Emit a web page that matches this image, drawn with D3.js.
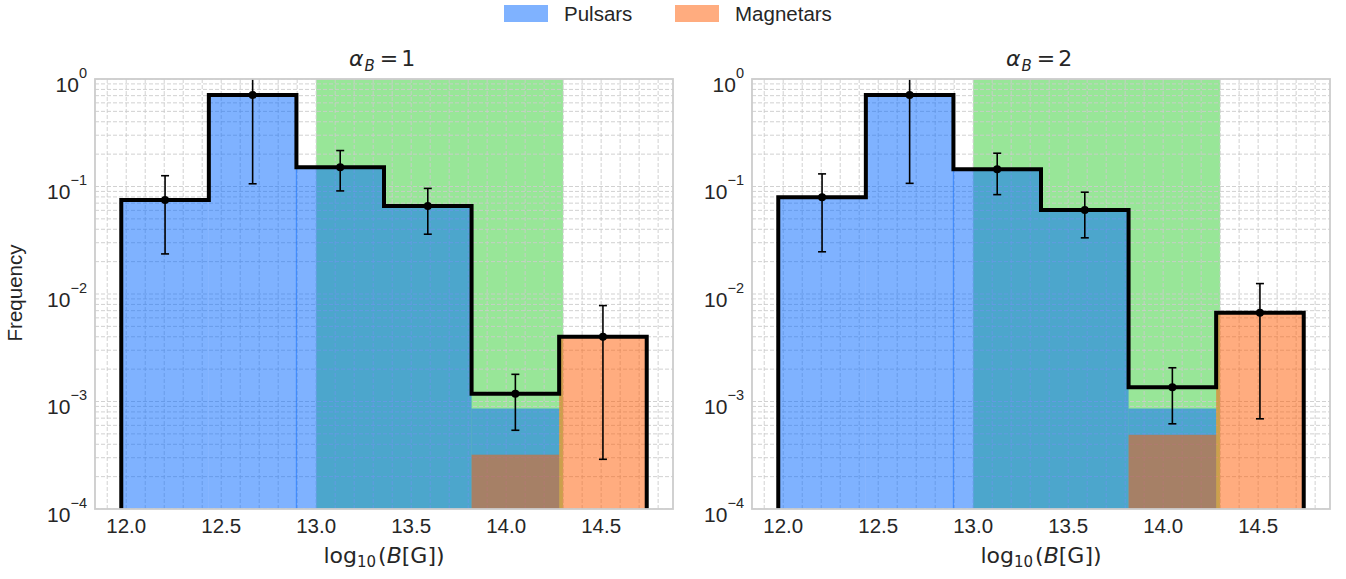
<!DOCTYPE html>
<html>
<head>
<meta charset="utf-8">
<script src="https://cdn.jsdelivr.net/npm/d3@7"></script>
<style>
  html, body { margin: 0; padding: 0; background: #ffffff; }
  svg { display: block; }
</style>
</head>
<body>
<svg id="chart" width="1346" height="579"></svg>
<script>
// ---- data ----------------------------------------------------------------
// histogram bin edges in log10(B [G])
const binEdges = [11.974, 12.435, 12.896, 13.357, 13.818, 14.279, 14.74];
// shaded field range
const shadeRange = [13.0, 14.3];
const xTicks = [12.0, 12.5, 13.0, 13.5, 14.0, 14.5];
const yTickExponents = [0, -1, -2, -3, -4];
const panelAlphas = ["1", "2"];
const legendLabels = ["Pulsars", "Magnetars"];

// alpha_B = 1
const pulsarsA1   = [0.075, 0.71, 0.151, 0.066, 8.6e-4, 0];
const magnetarsA1 = [0, 0, 0, 0, 3.2e-4, 4.0e-3];
const combinedA1  = [0.075, 0.71, 0.151, 0.066, 1.18e-3, 4.0e-3];
const errLowA1    = [0.0236, 0.106, 0.091, 0.036, 5.4e-4, 2.9e-4];
const errHighA1   = [0.126, 1.3, 0.216, 0.096, 1.79e-3, 7.8e-3];

// alpha_B = 2
const pulsarsA2   = [0.0796, 0.71, 0.145, 0.0606, 8.6e-4, 0];
const magnetarsA2 = [0, 0, 0, 0, 4.9e-4, 6.7e-3];
const combinedA2  = [0.0796, 0.71, 0.145, 0.0606, 1.36e-3, 6.7e-3];
const errLowA2    = [0.0247, 0.107, 0.084, 0.0333, 6.2e-4, 6.9e-4];
const errHighA2   = [0.131, 1.3, 0.204, 0.0885, 2.06e-3, 0.0125];

// ---- styling -------------------------------------------------------------
const BLUE = "#0066ff", ORANGE = "#ff5a00", GREEN = "#32cd32";
const FILL_ALPHA = 0.5;
const TEXT = "#262626";
const GRID = "#cccccc";
const SANS = "'Liberation Sans', Arial, sans-serif";
const MATH = "'DejaVu Sans', sans-serif";

const panels = [
  { alpha: panelAlphas[0], pulsars: pulsarsA1, magnetars: magnetarsA1, combined: combinedA1, lo: errLowA1, hi: errHighA1, left: 95,  right: 673, ylabel: true },
  { alpha: panelAlphas[1], pulsars: pulsarsA2, magnetars: magnetarsA2, combined: combinedA2, lo: errLowA2, hi: errHighA2, left: 752, right: 1330, ylabel: false }
];
const TOP = 79, BOTTOM = 509;

const svg = d3.select("#chart");

// x limits with 5% padding around the bin range
const span = binEdges[binEdges.length - 1] - binEdges[0];
const xDomain = [binEdges[0] - 0.05 * span, binEdges[binEdges.length - 1] + 0.05 * span];

const bins = d3.range(binEdges.length - 1).map(i => ({
  x0: binEdges[i], x1: binEdges[i + 1], xc: (binEdges[i] + binEdges[i + 1]) / 2
}));

panels.forEach((p, pi) => {
  const x = d3.scaleLinear().domain(xDomain).range([p.left, p.right]);
  const y = d3.scaleLog().domain([1e-4, 1]).range([BOTTOM, TOP]);

  const clipId = "clip" + pi;
  svg.append("clipPath").attr("id", clipId)
    .append("rect").attr("x", p.left).attr("y", TOP)
    .attr("width", p.right - p.left).attr("height", BOTTOM - TOP);

  const g = svg.append("g").attr("clip-path", `url(#${clipId})`);

  // shaded range
  g.append("rect")
    .attr("x", x(shadeRange[0])).attr("y", TOP)
    .attr("width", x(shadeRange[1]) - x(shadeRange[0]))
    .attr("height", BOTTOM - TOP)
    .attr("fill", GREEN).attr("fill-opacity", FILL_ALPHA);

  // grid: major + minor, dashed
  const xMinor = d3.range(119, 149).map(v => v / 10);
  const yMinor = [];
  for (let e = -4; e < 0; e++) for (let m = 1; m <= 9; m++) yMinor.push(m * Math.pow(10, e));
  yMinor.push(1);

  g.append("g").selectAll("line").data(xMinor).join("line")
    .attr("x1", d => x(d)).attr("x2", d => x(d))
    .attr("y1", TOP).attr("y2", BOTTOM)
    .attr("stroke", GRID).attr("stroke-width", 0.9).attr("stroke-dasharray", "4,2");
  g.append("g").selectAll("line").data(yMinor).join("line")
    .attr("x1", p.left).attr("x2", p.right)
    .attr("y1", d => y(d)).attr("y2", d => y(d))
    .attr("stroke", GRID).attr("stroke-width", 0.9).attr("stroke-dasharray", "4,2");

  // pulsar bars
  g.append("g").selectAll("rect").data(bins.filter((b, i) => p.pulsars[i] > 0).map(b => ({ ...b, v: p.pulsars[bins.indexOf(b)] })))
    .join("rect")
    .attr("x", d => x(d.x0)).attr("width", d => x(d.x1) - x(d.x0))
    .attr("y", d => y(d.v)).attr("height", d => BOTTOM - y(d.v))
    .attr("fill", BLUE).attr("fill-opacity", FILL_ALPHA);

  // seam where the two pulsar bar groups meet
  const seam = 2;
  g.append("line")
    .attr("x1", x(binEdges[seam])).attr("x2", x(binEdges[seam]))
    .attr("y1", y(Math.min(p.pulsars[seam - 1], p.pulsars[seam]))).attr("y2", BOTTOM)
    .attr("stroke", BLUE).attr("stroke-opacity", FILL_ALPHA).attr("stroke-width", 1.2);

  // magnetar bars
  g.append("g").selectAll("rect").data(bins.map((b, i) => ({ ...b, v: p.magnetars[i] })).filter(d => d.v > 0))
    .join("rect")
    .attr("x", d => x(d.x0)).attr("width", d => x(d.x1) - x(d.x0))
    .attr("y", d => y(d.v)).attr("height", d => BOTTOM - y(d.v))
    .attr("fill", ORANGE).attr("fill-opacity", FILL_ALPHA);

  // combined step outline
  const stepPts = [[x(binEdges[0]), BOTTOM + 20]];
  bins.forEach((b, i) => {
    stepPts.push([x(b.x0), y(p.combined[i])]);
    stepPts.push([x(b.x1), y(p.combined[i])]);
  });
  stepPts.push([x(binEdges[binEdges.length - 1]), BOTTOM + 20]);
  g.append("path")
    .attr("d", d3.line()(stepPts))
    .attr("fill", "none").attr("stroke", "#000").attr("stroke-width", 4)
    .attr("stroke-linejoin", "miter");

  // error bars
  const eb = g.append("g");
  bins.forEach((b, i) => {
    const cx = x(b.xc);
    eb.append("line").attr("x1", cx).attr("x2", cx)
      .attr("y1", y(p.lo[i])).attr("y2", y(p.hi[i]))
      .attr("stroke", "#000").attr("stroke-width", 1.6);
    [p.lo[i], p.hi[i]].forEach(v => {
      eb.append("line").attr("x1", cx - 4).attr("x2", cx + 4)
        .attr("y1", y(v)).attr("y2", y(v))
        .attr("stroke", "#000").attr("stroke-width", 1.6);
    });
    eb.append("circle").attr("cx", cx).attr("cy", y(p.combined[i])).attr("r", 4).attr("fill", "#000");
  });

  // frame
  svg.append("rect")
    .attr("x", p.left).attr("y", TOP)
    .attr("width", p.right - p.left).attr("height", BOTTOM - TOP)
    .attr("fill", "none").attr("stroke", GRID).attr("stroke-width", 1.8);

  // x tick labels
  svg.append("g").selectAll("text").data(xTicks).join("text")
    .attr("x", d => x(d)).attr("y", BOTTOM + 24)
    .attr("text-anchor", "middle")
    .attr("font-family", SANS).attr("font-size", 20.5).attr("fill", TEXT)
    .text(d => d3.format(".1f")(d));

  // y tick labels 10^k
  yTickExponents.forEach(e => {
    const t = svg.append("text")
      .attr("x", p.left - 8).attr("y", y(Math.pow(10, e)) + 12.5)
      .attr("text-anchor", "end")
      .attr("font-family", SANS).attr("fill", TEXT);
    t.append("tspan").attr("font-size", 21).text("10");
    t.append("tspan").attr("font-size", 14.5).attr("dy", -14)
      .text(e === 0 ? "0" : "\u2212" + Math.abs(e));
  });

  // panel title
  const cxAxis = (p.left + p.right) / 2;
  const title = svg.append("text")
    .attr("x", cxAxis - 2).attr("y", 66)
    .attr("text-anchor", "middle")
    .attr("font-family", MATH).attr("font-size", 22).attr("fill", TEXT);
  title.append("tspan").attr("font-style", "italic").text("\u03b1");
  title.append("tspan").attr("font-style", "italic").attr("font-size", 15).attr("dy", 5).attr("dx", 1).text("B");
  title.append("tspan").attr("dy", -5).attr("dx", 5).text("=");
  title.append("tspan").attr("dx", 3).text(p.alpha);

  // x axis label
  const xl = svg.append("text")
    .attr("x", cxAxis).attr("y", 563)
    .attr("text-anchor", "middle")
    .attr("font-family", MATH).attr("font-size", 22).attr("fill", TEXT);
  xl.append("tspan").text("log");
  xl.append("tspan").attr("font-size", 15).attr("dy", 4).text("10");
  xl.append("tspan").attr("dy", -4).attr("dx", 2).text("(");
  xl.append("tspan").attr("font-style", "italic").text("B");
  xl.append("tspan").text("[G])");

  if (p.ylabel) {
    svg.append("text")
      .attr("transform", `translate(22, ${(TOP + BOTTOM) / 2 - 1}) rotate(-90)`)
      .attr("text-anchor", "middle")
      .attr("font-family", SANS).attr("font-size", 20.5).attr("fill", TEXT)
      .text("Frequency");
  }
});

// legend
const legendItems = [
  { label: legendLabels[0], color: BLUE, x: 504 },
  { label: legendLabels[1], color: ORANGE, x: 675 }
];
const lg = svg.append("g");
legendItems.forEach(it => {
  lg.append("rect").attr("x", it.x).attr("y", 5).attr("width", 44).attr("height", 17)
    .attr("fill", it.color).attr("fill-opacity", FILL_ALPHA);
  lg.append("text").attr("x", it.x + 60).attr("y", 21)
    .attr("font-family", SANS).attr("font-size", 20.5).attr("fill", TEXT)
    .text(it.label);
});
</script>
</body>
</html>
